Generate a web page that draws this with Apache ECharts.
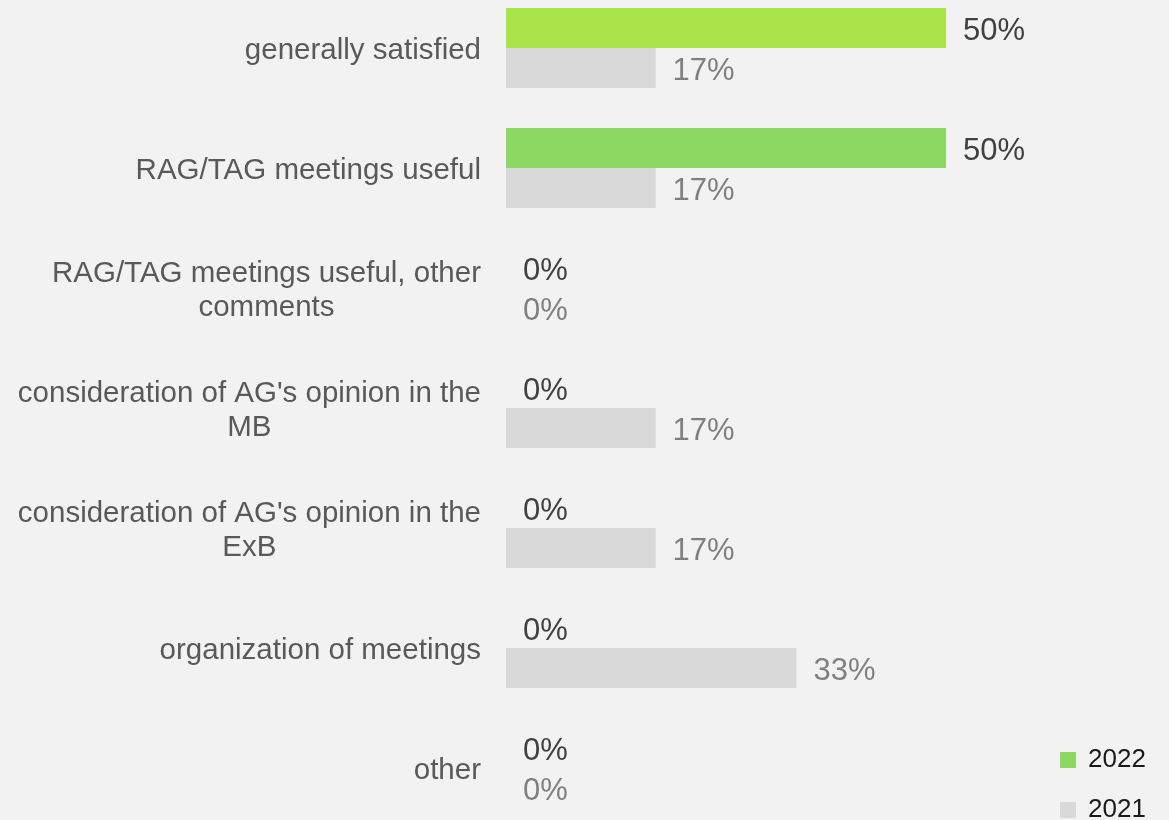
<!DOCTYPE html>
<html>
<head>
<meta charset="utf-8">
<script src="https://cdn.jsdelivr.net/npm/echarts@6/dist/echarts.min.js"></script>
<style>
html,body{margin:0;padding:0;background:#f2f2f2;overflow:hidden;height:820px;}
#main{width:1169px;height:880px;margin-top:-12px;}
</style>
</head>
<body>
<div id="main"></div>
<script>
var categories = [
  "generally satisfied",
  "RAG/TAG meetings useful",
  "RAG/TAG meetings useful, other comments",
  "consideration of AG's opinion in the MB",
  "consideration of AG's opinion in the ExB",
  "organization of meetings",
  "other"
];
var seriesNames = ["2022", "2021"];
var values2022 = [50, 50, 0, 0, 0, 0, 0];
var values2021 = [17, 17, 0, 17, 17, 33, 0];

var LABEL_FONT = 29.5;
var FONT_FAMILY = '"Liberation Sans", Arial, sans-serif';
var measureCtx = document.createElement('canvas').getContext('2d');
measureCtx.font = LABEL_FONT + 'px ' + FONT_FAMILY;
function wrap(text, maxW) {
  var words = text.split(' ');
  var lines = [];
  var cur = '';
  for (var i = 0; i < words.length; i++) {
    var test = cur ? cur + ' ' + words[i] : words[i];
    if (cur && measureCtx.measureText(test).width > maxW) {
      lines.push(cur);
      cur = words[i];
    } else {
      cur = test;
    }
  }
  if (cur) lines.push(cur);
  return lines;
}

var chart = echarts.init(document.getElementById('main'));
chart.setOption({
  backgroundColor: '#f2f2f2',
  animation: false,
  grid: { left: 506, top: 0, width: 528, height: 840, containLabel: false },
  xAxis: {
    type: 'value', min: 0, max: 60, show: false,
    splitLine: { show: false }
  },
  yAxis: {
    type: 'category',
    data: categories,
    inverse: true,
    axisLine: { show: false },
    axisTick: { show: false },
    axisLabel: {
      margin: 25,
      padding: [6, 0, 0, 0],
      formatter: function (v) {
        return wrap(v, 470).map(function (l) { return '{c|' + l + '}'; }).join('\n');
      },
      rich: {
        c: {
          align: 'center',
          fontSize: LABEL_FONT,
          lineHeight: 34,
          color: '#595959',
          fontFamily: FONT_FAMILY
        }
      }
    }
  },
  legend: {
    orient: 'vertical',
    left: 1060,
    top: 757,
    padding: 0,
    itemWidth: 16,
    itemHeight: 16,
    itemGap: 20,
    icon: 'rect',
    data: seriesNames,
    textStyle: {
      fontSize: 26, lineHeight: 26, color: '#1a1a1a',
      fontFamily: FONT_FAMILY, padding: [4, 0, 0, 7]
    }
  },
  series: [
    {
      name: seriesNames[0],
      type: 'bar',
      barWidth: 40,
      barGap: '0%',
      data: values2022.map(function (v, i) {
        return i === 0 ? { value: v, itemStyle: { color: '#a8e44a' } } : v;
      }),
      itemStyle: { color: '#8cd862' },
      label: {
        show: true, position: 'right', distance: 17, offset: [0, 3],
        formatter: '{c}%', fontSize: 31, color: '#404040',
        fontFamily: FONT_FAMILY
      }
    },
    {
      name: seriesNames[1],
      type: 'bar',
      barWidth: 40,
      barGap: '0%',
      data: values2021,
      itemStyle: { color: '#d9d9d9' },
      label: {
        show: true, position: 'right', distance: 17, offset: [0, 3],
        formatter: '{c}%', fontSize: 31, color: '#808080',
        fontFamily: FONT_FAMILY
      }
    }
  ]
});
</script>
</body>
</html>
